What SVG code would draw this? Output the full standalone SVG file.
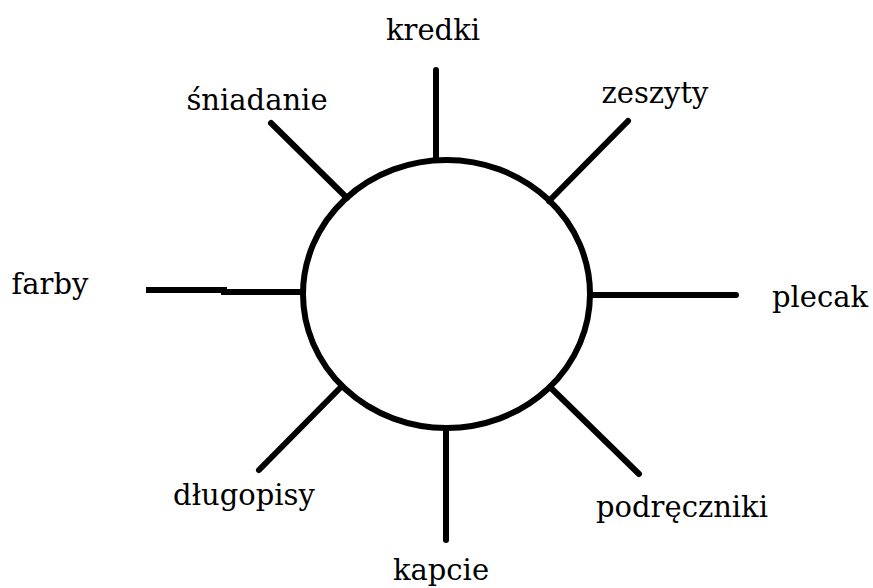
<svg xmlns="http://www.w3.org/2000/svg" width="873" height="588" viewBox="0 0 873 588">
<style>
.c{fill:none;stroke:#000;stroke-width:6;stroke-linecap:round}
.t{font-family:"DejaVu Serif","Liberation Serif",serif;font-size:29px;fill:#000}
</style>
<rect width="873" height="588" fill="#fff"/>
<g id="connectors" class="c">
<line x1="436" y1="70" x2="436" y2="160"/>
<line x1="271" y1="123" x2="347" y2="198"/>
<line x1="628" y1="121" x2="549" y2="201"/>
<polyline points="146,290 224,290 224,292 303,292" stroke-linecap="butt"/>
<line x1="590" y1="295" x2="736" y2="295"/>
<line x1="259" y1="470" x2="341" y2="387"/>
<line x1="446" y1="428" x2="446" y2="540"/>
<line x1="551" y1="388" x2="639" y2="474"/>
</g>
<g id="center"><ellipse class="c" cx="446.5" cy="294" rx="143.5" ry="134"/></g>
<g id="kredki"><text class="t" x="433" y="40" text-anchor="middle">kredki</text></g>
<g id="sniadanie"><text class="t" x="257" y="110" text-anchor="middle">śniadanie</text></g>
<g id="zeszyty"><text class="t" x="655" y="103" text-anchor="middle">zeszyty</text></g>
<g id="farby"><text class="t" x="50" y="294" text-anchor="middle">farby</text></g>
<g id="plecak"><text class="t" x="820" y="307" text-anchor="middle">plecak</text></g>
<g id="dlugopisy"><text class="t" x="244" y="505" text-anchor="middle">długopisy</text></g>
<g id="kapcie"><text class="t" x="441" y="580" text-anchor="middle">kapcie</text></g>
<g id="podreczniki"><text class="t" x="682" y="517" text-anchor="middle">podręczniki</text></g>
</svg>
